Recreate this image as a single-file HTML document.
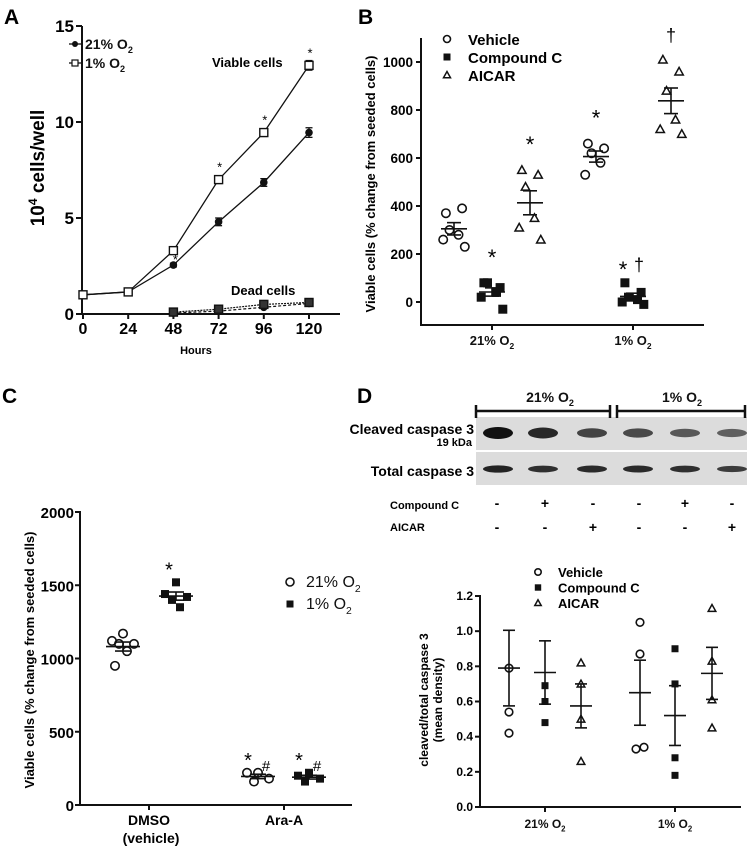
<!DOCTYPE html>
<html><head><meta charset="utf-8"><style>
html,body{margin:0;padding:0;background:#fff;}
svg text{font-family:"Liberation Sans",Arial,sans-serif;}
</style></head><body>
<svg id="fig" width="749" height="848" viewBox="0 0 749 848" xmlns="http://www.w3.org/2000/svg">
<g id="gA"></g>
<g id="gB"></g>
<g id="gC"></g>
<g id="gD"></g>
</svg>
<script>
// ===== Panel A data =====
const hoursA = [0, 24, 48, 72, 96, 120];
const viable21 = [1.0, 1.15, 2.55, 4.8, 6.85, 9.45];
const viable1 = [1.0, 1.15, 3.3, 7.0, 9.45, 12.95];
const errA = [0.05, 0.05, 0.1, 0.2, 0.2, 0.25];
const hoursDead = [48, 72, 96, 120];
const dead21 = [0.05, 0.15, 0.35, 0.55];
const dead1 = [0.1, 0.25, 0.5, 0.6];
const starsA = [48, 72, 96, 120];
const ticksAy = [0, 5, 10, 15];
// ===== Panel B data =====
const groupsB = ["21% O", "1% O"];
const bVeh21 = [370, 390, 300, 280, 260, 230];
const bCC21 = [80, 60, 80, 40, 20, -30];
const bAI21 = [550, 530, 480, 350, 310, 260];
const bVeh1 = [660, 640, 620, 580, 530];
const bCC1 = [80, 40, 20, 10, 0, -10];
const bAI1 = [1010, 960, 880, 760, 720, 700];
const ticksBy = [0, 200, 400, 600, 800, 1000];
// ===== Panel C data =====
const groupsC = ["DMSO", "Ara-A"];
const cDMSO21 = [1170, 1120, 1100, 1100, 1050, 950];
const cDMSO1 = [1520, 1440, 1420, 1400, 1350];
const cAra21 = [220, 220, 180, 160];
const cAra1 = [220, 200, 180, 160];
const ticksCy = [0, 500, 1000, 1500, 2000];
// ===== Panel D data =====
const groupsD = ["21% O", "1% O"];
const dVeh21 = [0.79, 0.54, 0.42];
const dCC21 = [0.69, 0.6, 0.48];
const dAI21 = [0.82, 0.70, 0.50, 0.26];
const dVeh1 = [1.05, 0.87, 0.33, 0.34];
const dCC1 = [0.90, 0.70, 0.28, 0.18];
const dAI1 = [1.13, 0.83, 0.61, 0.45];
const dMeans = [0.79, 0.765, 0.575, 0.65, 0.52, 0.76];
const dSems = [0.215, 0.18, 0.125, 0.185, 0.17, 0.148];
const ticksDy = [0, 0.2, 0.4, 0.6, 0.8, 1.0, 1.2];
const bandCleaved = [1.0, 0.85, 0.65, 0.6, 0.5, 0.45];
const bandTotal = [0.85, 0.75, 0.8, 0.8, 0.75, 0.65];

const NS = "http://www.w3.org/2000/svg";
function mk(parent, tag, attrs, text) {
  const e = document.createElementNS(NS, tag);
  for (const k in attrs) e.setAttribute(k, attrs[k]);
  if (text !== undefined) e.textContent = text;
  parent.appendChild(e);
  return e;
}
function mean(a){return a.reduce((s,v)=>s+v,0)/a.length;}
function sem(a){const m=mean(a);return Math.sqrt(a.reduce((s,v)=>s+(v-m)*(v-m),0)/(a.length-1))/Math.sqrt(a.length);}
function marker(g, type, x, y, r) {
  let e;
  if (type === "circle") e = mk(g, "circle", {cx:x, cy:y, r:r, fill:"none", stroke:"#111", "stroke-width":1.6});
  else if (type === "square") e = mk(g, "rect", {x:x-r, y:y-r, width:2*r, height:2*r, fill:"#111"});
  else e = mk(g, "polygon", {points:`${x},${y-r} ${x-r},${y+r*0.8} ${x+r},${y+r*0.8}`, fill:"none", stroke:"#111", "stroke-width":1.5});
  
  
  return e;
}
function subText(g, x, y, main, sub, size, weight, anchor) {
  const t = mk(g, "text", {x:x, y:y, "font-size":size, "font-weight":weight, "text-anchor":anchor||"start", fill:"#111"});
  const a = document.createElementNS(NS, "tspan"); a.textContent = main; t.appendChild(a);
  const b = document.createElementNS(NS, "tspan"); b.setAttribute("font-size", size*0.65); b.setAttribute("dy", size*0.3); b.textContent = sub; t.appendChild(b);
  return t;
}

// ===== Panel A =====
(function(){
  const g = document.getElementById("gA");
  const x = h => 83 + h * (226/120);
  const y = v => 314 - v * (288/15);
  mk(g,"text",{x:4,y:24,"font-size":21,"font-weight":"bold"},"A");
  mk(g,"line",{x1:82,y1:26,x2:82,y2:315,stroke:"#111","stroke-width":2});
  mk(g,"line",{x1:81,y1:314,x2:340,y2:314,stroke:"#111","stroke-width":2});
  ticksAy.forEach(t=>{
    mk(g,"line",{x1:76,y1:y(t),x2:82,y2:y(t),stroke:"#111","stroke-width":2});
    mk(g,"text",{x:74,y:y(t)+6,"font-size":17,"font-weight":"bold","text-anchor":"end"},t);
  });
  hoursA.forEach(h=>{
    mk(g,"line",{x1:x(h),y1:314,x2:x(h),y2:319,stroke:"#111","stroke-width":2});
    mk(g,"text",{x:x(h),y:334,"font-size":16,"font-weight":"bold","text-anchor":"middle"},h);
  });
  mk(g,"text",{x:196,y:354,"font-size":11,"font-weight":"bold","text-anchor":"middle"},"Hours");
  const yl = mk(g,"text",{x:0,y:0,"font-size":19,"font-weight":"bold","text-anchor":"middle",transform:"translate(44,168) rotate(-90)"});
  const t1=document.createElementNS(NS,"tspan");t1.textContent="10";yl.appendChild(t1);
  const t2=document.createElementNS(NS,"tspan");t2.setAttribute("font-size",12);t2.setAttribute("dy",-7);t2.textContent="4";yl.appendChild(t2);
  const t3=document.createElementNS(NS,"tspan");t3.setAttribute("dy",7);t3.textContent=" cells/well";yl.appendChild(t3);
  function series(xs, vals, type, dash, name, err, dark){
    const p = mk(g,"polyline",{points:xs.map((h,i)=>x(h)+","+y(vals[i])).join(" "),fill:"none",stroke:"#111","stroke-width":dash?1.2:1.3,"stroke-dasharray":dash||"none"});
    
    
    xs.forEach((h,i)=>{
      if(err){
        const e=err[i];
        mk(g,"line",{x1:x(h),y1:y(vals[i]+e),x2:x(h),y2:y(vals[i]-e),stroke:"#111","stroke-width":1.3});
        mk(g,"line",{x1:x(h)-3.5,y1:y(vals[i]+e),x2:x(h)+3.5,y2:y(vals[i]+e),stroke:"#111","stroke-width":1.3});
        mk(g,"line",{x1:x(h)-3.5,y1:y(vals[i]-e),x2:x(h)+3.5,y2:y(vals[i]-e),stroke:"#111","stroke-width":1.3});
      }
      if(type==="circle") mk(g,"circle",{cx:x(h),cy:y(vals[i]),r:3.8,fill:"#111"});
      else mk(g,"rect",{x:x(h)-4,y:y(vals[i])-4,width:8,height:8,fill:dark?"#333":"#fff",stroke:"#111","stroke-width":1.4});
    });
  }
  series(hoursA, viable21, "circle", null, "viable-21-line", errA);
  series(hoursA, viable1, "square", null, "viable-1-line", errA);
  series(hoursDead, dead21, "circle", "3,2", "dead-21-line");
  series(hoursDead, dead1, "square", "2,1", "dead-1-line", null, true);
  starsA.forEach((h)=>{
    const v = viable1[hoursA.indexOf(h)];
    if(h===48) mk(g,"text",{x:x(h)+2,y:y(viable21[2])-1,"font-size":13,"text-anchor":"middle"},"*");
    else mk(g,"text",{x:x(h)+1,y:y(v)-8,"font-size":13,"text-anchor":"middle"},"*");
  });
  mk(g,"text",{x:212,y:67,"font-size":13,"font-weight":"bold"},"Viable cells");
  mk(g,"text",{x:231,y:295,"font-size":13,"font-weight":"bold"},"Dead cells");
  mk(g,"line",{x1:69,y1:44,x2:81,y2:44,stroke:"#111","stroke-width":1.3});
  mk(g,"circle",{cx:75,cy:44,r:3,fill:"#111"});
  subText(g,85,49,"21% O","2",14,"bold");
  mk(g,"line",{x1:69,y1:63,x2:81,y2:63,stroke:"#111","stroke-width":1.3});
  mk(g,"rect",{x:72,y:60,width:6,height:6,fill:"#fff",stroke:"#111","stroke-width":1.2});
  subText(g,85,68,"1% O","2",14,"bold");
})();

// ===== Panel B =====
(function(){
  const g = document.getElementById("gB");
  const y = v => 302 - v * 0.24;
  const gx = [454, 492, 530, 596, 633, 671];
  const sets = [bVeh21,bCC21,bAI21,bVeh1,bCC1,bAI1];
  const types = ["circle","square","triangle","circle","square","triangle"];
  mk(g,"text",{x:358,y:24,"font-size":21,"font-weight":"bold"},"B");
  mk(g,"line",{x1:421,y1:38,x2:421,y2:326,stroke:"#111","stroke-width":2});
  mk(g,"line",{x1:420,y1:325,x2:704,y2:325,stroke:"#111","stroke-width":2});
  ticksBy.forEach(t=>{
    mk(g,"line",{x1:416,y1:y(t),x2:421,y2:y(t),stroke:"#111","stroke-width":2});
    mk(g,"text",{x:413,y:y(t)+5,"font-size":13.5,"font-weight":"bold","text-anchor":"end"},t);
  });
  [492,633].forEach((xx,i)=>{
    mk(g,"line",{x1:xx,y1:325,x2:xx,y2:330,stroke:"#111","stroke-width":2});
    subText(g,xx,345,groupsB[i],"2",13,"bold","middle");
  });
  mk(g,"text",{x:0,y:0,"font-size":13,"font-weight":"bold","text-anchor":"middle",transform:"translate(375,184) rotate(-90)"},"Viable cells (% change from seeded cells)");
  const offs = [-9,9,-5,5,-12,12];
  sets.forEach((arr,i)=>{
    arr.forEach((v,j)=>marker(g,types[i],gx[i]+offs[j%6]*0.9,y(v),types[i]==="square"?4.5:4.2));
    const m=mean(arr), s=sem(arr);
    mk(g,"line",{x1:gx[i]-13,y1:y(m),x2:gx[i]+13,y2:y(m),stroke:"#111","stroke-width":1.6});
    mk(g,"line",{x1:gx[i],y1:y(m+s),x2:gx[i],y2:y(m-s),stroke:"#111","stroke-width":1.6});
    mk(g,"line",{x1:gx[i]-7,y1:y(m+s),x2:gx[i]+7,y2:y(m+s),stroke:"#111","stroke-width":1.6});
    mk(g,"line",{x1:gx[i]-7,y1:y(m-s),x2:gx[i]+7,y2:y(m-s),stroke:"#111","stroke-width":1.6});
    if(i!==0){
      const top = Math.max(...arr);
      if(i===4){
        mk(g,"text",{x:gx[i]-10,y:y(top)-6,"font-size":22,"text-anchor":"middle"},"*");
        mk(g,"text",{x:gx[i]+6,y:y(top)-12,"font-size":18,"text-anchor":"middle"},"†");
      } else if(i===5){
        mk(g,"text",{x:gx[i],y:y(top)-18,"font-size":18,"text-anchor":"middle"},"†");
      } else {
        mk(g,"text",{x:gx[i],y:y(top)-18,"font-size":22,"text-anchor":"middle"},"*");
      }
    }
  });
  const leg=[["circle","Vehicle"],["square","Compound C"],["triangle","AICAR"]];
  leg.forEach((l,i)=>{
    marker(g,l[0],447,39+i*18,3.5);
    mk(g,"text",{x:468,y:45+i*18,"font-size":15,"font-weight":"bold"},l[1]);
  });
})();

// ===== Panel C =====
(function(){
  const g = document.getElementById("gC");
  const y = v => 805 - v * (293/2000);
  const gx = [123, 176, 258, 309];
  const sets = [cDMSO21,cDMSO1,cAra21,cAra1];
  const types = ["circle","square","circle","square"];
  mk(g,"text",{x:2,y:403,"font-size":21,"font-weight":"bold"},"C");
  mk(g,"line",{x1:80,y1:511,x2:80,y2:806,stroke:"#111","stroke-width":2});
  mk(g,"line",{x1:79,y1:805,x2:352,y2:805,stroke:"#111","stroke-width":2});
  ticksCy.forEach(t=>{
    mk(g,"line",{x1:75,y1:y(t),x2:80,y2:y(t),stroke:"#111","stroke-width":2});
    mk(g,"text",{x:74,y:y(t)+6,"font-size":15,"font-weight":"bold","text-anchor":"end"},t);
  });
  [149,284].forEach((xx,i)=>{
    mk(g,"line",{x1:xx,y1:805,x2:xx,y2:810,stroke:"#111","stroke-width":2});
    mk(g,"text",{x:xx,y:825,"font-size":14,"font-weight":"bold","text-anchor":"middle"},groupsC[i]);
  });
  mk(g,"text",{x:151,y:843,"font-size":14,"font-weight":"bold","text-anchor":"middle"},"(vehicle)");
  mk(g,"text",{x:0,y:0,"font-size":13,"font-weight":"bold","text-anchor":"middle",transform:"translate(34,660) rotate(-90)"},"Viable cells (% change from seeded cells)");
  const offs=[0,-11,11,-4,4,-8];
  sets.forEach((arr,i)=>{
    arr.forEach((v,j)=>marker(g,types[i],gx[i]+offs[j%6],y(v),types[i]==="square"?4:4.2));
    const m=mean(arr), s=sem(arr);
    mk(g,"line",{x1:gx[i]-17,y1:y(m),x2:gx[i]+17,y2:y(m),stroke:"#111","stroke-width":1.6});
    mk(g,"line",{x1:gx[i],y1:y(m+s),x2:gx[i],y2:y(m-s),stroke:"#111","stroke-width":1.6});
    mk(g,"line",{x1:gx[i]-8,y1:y(m+s),x2:gx[i]+8,y2:y(m+s),stroke:"#111","stroke-width":1.6});
    mk(g,"line",{x1:gx[i]-8,y1:y(m-s),x2:gx[i]+8,y2:y(m-s),stroke:"#111","stroke-width":1.6});
    const top=Math.max(...arr);
    if(i===1) mk(g,"text",{x:gx[i]-7,y:y(top)-6,"font-size":20,"text-anchor":"middle"},"*");
    if(i>=2){
      mk(g,"text",{x:gx[i]-10,y:y(top)-6,"font-size":20,"text-anchor":"middle"},"*");
      mk(g,"text",{x:gx[i]+8,y:y(top)-2,"font-size":15,"text-anchor":"middle"},"#");
    }
  });
  marker(g,"circle",290,582,4);
  subText(g,306,587,"21% O","2",16,"normal");
  marker(g,"square",290,604,3.5);
  subText(g,306,609,"1% O","2",16,"normal");
})();

// ===== Panel D =====
(function(){
  const g = document.getElementById("gD");
  mk(g,"text",{x:357,y:403,"font-size":21,"font-weight":"bold"},"D");
  const lanes=[498,543,592,638,685,732];
  const blot = mk(g,"g",{});
  
  
  mk(blot,"rect",{x:476,y:417,width:271,height:33,fill:"#dcdcdc"});
  mk(blot,"rect",{x:476,y:452,width:271,height:33,fill:"#dcdcdc"});
  lanes.forEach((lx,i)=>{
    mk(blot,"ellipse",{cx:lx,cy:433,rx:15,ry:2.5+3.5*bandCleaved[i],fill:"#111","fill-opacity":0.3+0.7*bandCleaved[i]});
    mk(blot,"ellipse",{cx:lx,cy:469,rx:15,ry:1.5+2.5*bandTotal[i],fill:"#111","fill-opacity":0.4+0.6*bandTotal[i]});
  });
  [[476,610],[617,745]].forEach(b=>{
    mk(g,"line",{x1:b[0],y1:411,x2:b[1],y2:411,stroke:"#111","stroke-width":2.5});
    mk(g,"line",{x1:b[0],y1:405,x2:b[0],y2:418,stroke:"#111","stroke-width":2.5});
    mk(g,"line",{x1:b[1],y1:405,x2:b[1],y2:418,stroke:"#111","stroke-width":2.5});
  });
  subText(g,550,402,"21% O","2",14,"bold","middle");
  subText(g,682,402,"1% O","2",14,"bold","middle");
  mk(g,"text",{x:474,y:434,"font-size":14,"font-weight":"bold","text-anchor":"end"},"Cleaved caspase 3");
  mk(g,"text",{x:472,y:446,"font-size":11,"font-weight":"bold","text-anchor":"end"},"19 kDa");
  mk(g,"text",{x:474,y:476,"font-size":14,"font-weight":"bold","text-anchor":"end"},"Total caspase 3");
  mk(g,"text",{x:390,y:509,"font-size":11,"font-weight":"bold"},"Compound C");
  mk(g,"text",{x:390,y:531,"font-size":11,"font-weight":"bold"},"AICAR");
  const cc=["-","+","-","-","+","-"], ai=["-","-","+","-","-","+"];
  const signX=[497,545,593,639,685,732];
  signX.forEach((sx,i)=>{
    mk(g,"text",{x:sx,y:508,"font-size":14,"font-weight":"bold","text-anchor":"middle"},cc[i]);
    mk(g,"text",{x:sx,y:532,"font-size":14,"font-weight":"bold","text-anchor":"middle"},ai[i]);
  });
  const y = v => 807 - v * (211/1.2);
  const gx=[509,545,581,640,675,712];
  const sets=[dVeh21,dCC21,dAI21,dVeh1,dCC1,dAI1];
  const types=["circle","square","triangle","circle","square","triangle"];
  mk(g,"line",{x1:480,y1:595,x2:480,y2:808,stroke:"#111","stroke-width":2});
  mk(g,"line",{x1:479,y1:807,x2:741,y2:807,stroke:"#111","stroke-width":2});
  ticksDy.forEach(t=>{
    mk(g,"line",{x1:475,y1:y(t),x2:480,y2:y(t),stroke:"#111","stroke-width":2});
    mk(g,"text",{x:473,y:y(t)+4,"font-size":12,"font-weight":"bold","text-anchor":"end"},t.toFixed(1));
  });
  [545,675].forEach((xx,i)=>{
    mk(g,"line",{x1:xx,y1:807,x2:xx,y2:812,stroke:"#111","stroke-width":2});
    subText(g,xx,828,groupsD[i],"2",12,"bold","middle");
  });
  mk(g,"text",{x:0,y:0,"font-size":12,"font-weight":"bold","text-anchor":"middle",transform:"translate(428,700) rotate(-90)"},"cleaved/total caspase 3");
  mk(g,"text",{x:0,y:0,"font-size":12,"font-weight":"bold","text-anchor":"middle",transform:"translate(442,700) rotate(-90)"},"(mean density)");
  sets.forEach((arr,i)=>{
    arr.forEach((v)=>{
      let dx=0;
      if(i===3 && v<0.4) dx = (v<0.335?-4:4);
      marker(g,types[i],gx[i]+dx,y(v),types[i]==="square"?3.5:3.8);
    });
    const m=dMeans[i], s=dSems[i];
    mk(g,"line",{x1:gx[i]-11,y1:y(m),x2:gx[i]+11,y2:y(m),stroke:"#111","stroke-width":1.6});
    mk(g,"line",{x1:gx[i],y1:y(m+s),x2:gx[i],y2:y(m-s),stroke:"#111","stroke-width":1.6});
    mk(g,"line",{x1:gx[i]-6,y1:y(m+s),x2:gx[i]+6,y2:y(m+s),stroke:"#111","stroke-width":1.6});
    mk(g,"line",{x1:gx[i]-6,y1:y(m-s),x2:gx[i]+6,y2:y(m-s),stroke:"#111","stroke-width":1.6});
  });
  const leg=[["circle","Vehicle"],["square","Compound C"],["triangle","AICAR"]];
  leg.forEach((l,i)=>{
    marker(g,l[0],538,572+i*15.5,3.2);
    mk(g,"text",{x:558,y:577+i*15.5,"font-size":13,"font-weight":"bold"},l[1]);
  });
})();
</script>
</body></html>
